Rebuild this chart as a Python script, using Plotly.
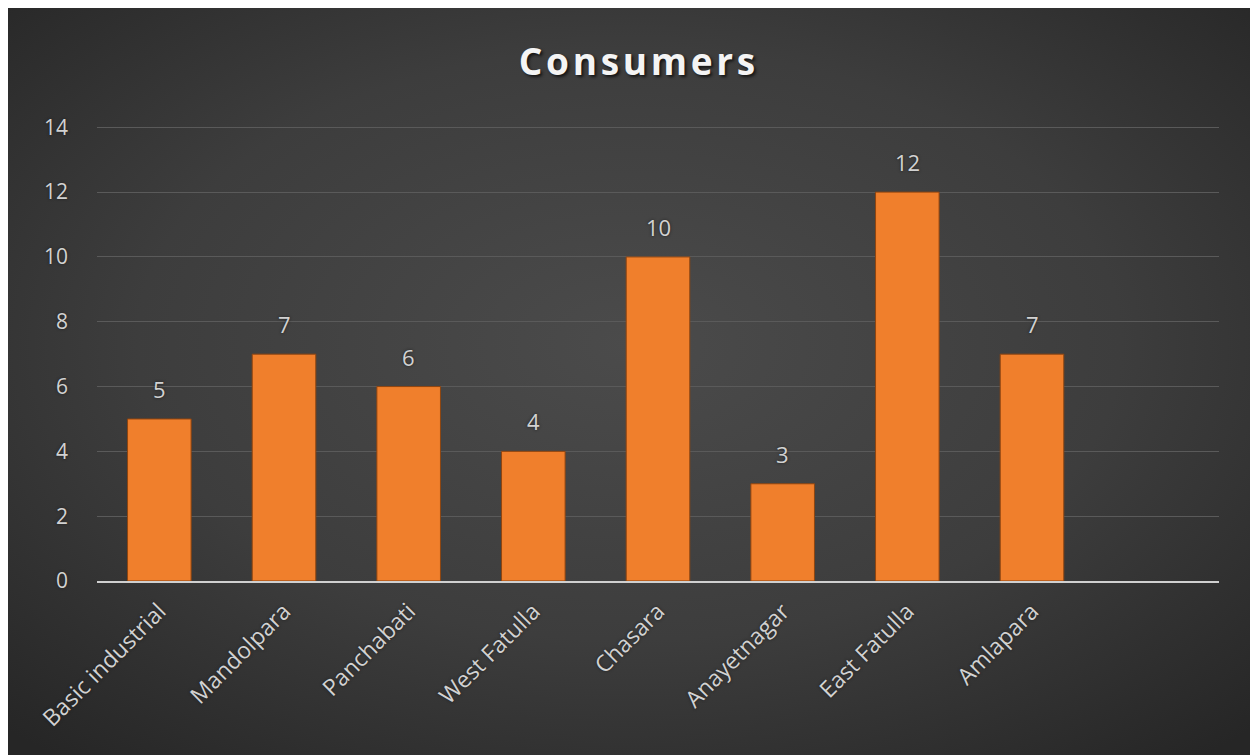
import base64
import plotly.graph_objects as go

# Consumers per area
areas = ["Basic industrial", "Mandolpara", "Panchabati", "West Fatulla",
         "Chasara", "Anayetnagar", "East Fatulla", "Amlapara"]
consumers = [5, 7, 6, 4, 10, 3, 12, 7]
y_ticks = [0, 2, 4, 6, 8, 10, 12, 14]

W, H = 1250, 755
ML, MR, MT, MB = 97, 31, 126, 174
plot_w = W - ML - MR
plot_h = H - MT - MB

FONT = "'Open Sans', Lato, sans-serif"
LABEL_GREY = "#d2d2d2"
GLOW = "0px 0px 3px #1e1e1e"

# dark radial backdrop drawn as an SVG image behind the plot
svg = (
    "<svg xmlns='http://www.w3.org/2000/svg' width='1242' height='747' "
    "viewBox='0 0 1242 747' preserveAspectRatio='none'>"
    "<defs><radialGradient id='g' cx='50%' cy='45%' r='72%'>"
    "<stop offset='0' stop-color='#4b4b4b'/>"
    "<stop offset='0.55' stop-color='#3d3d3d'/>"
    "<stop offset='1' stop-color='#262626'/>"
    "</radialGradient></defs>"
    "<rect width='1242' height='747' fill='url(#g)'/></svg>"
)
bg_uri = "data:image/svg+xml;base64," + base64.b64encode(svg.encode()).decode()

bg_left, bg_top = 8, 8
img_x = (bg_left - ML) / plot_w
img_y = (H - MB - bg_top) / plot_h
img_sx = (W - bg_left) / plot_w
img_sy = (H - bg_top) / plot_h

fig = go.Figure()
fig.add_trace(go.Bar(
    x=areas,
    y=consumers,
    width=0.51,
    marker=dict(color="#F07F2C", line=dict(color="#8f4510", width=1)),
    hoverinfo="x+y",
))

annotations = [
    dict(x=a, y=v, xref="x", yref="y", text=str(v), showarrow=False,
         yanchor="bottom", yshift=13,
         font=dict(family=FONT, size=22, color=LABEL_GREY, shadow=GLOW))
    for a, v in zip(areas, consumers)
]

# title letters spread with hair spaces
title_text = "\u200a".join("Consumers")

fig.update_layout(
    width=W, height=H,
    margin=dict(l=ML, r=MR, t=MT, b=MB, pad=0),
    paper_bgcolor="white",
    plot_bgcolor="rgba(0,0,0,0)",
    showlegend=False,
    bargap=0.49,
    title=dict(
        text=f"<b>{title_text}</b>",
        x=637 / W, xref="container", xanchor="center",
        y=1 - 62 / H, yref="container", yanchor="middle",
        font=dict(family=FONT, size=37, color="#f4f4f4",
                  shadow="2px 2px 3px #151515"),
    ),
    images=[dict(
        source=bg_uri, xref="paper", yref="paper",
        x=img_x, y=img_y, sizex=img_sx, sizey=img_sy,
        xanchor="left", yanchor="top", sizing="stretch", layer="below",
    )],
    annotations=annotations,
    xaxis=dict(
        range=[-0.5, 8.5],
        tickangle=-45,
        tickfont=dict(family=FONT, size=23, color=LABEL_GREY, shadow=GLOW),
        showgrid=False,
        showline=True, linecolor="#d0d0d0", linewidth=1.5,
        ticks="",
        zeroline=False,
        ticklabelstandoff=6,
    ),
    yaxis=dict(
        range=[0, 14.04],
        tickvals=y_ticks,
        tickfont=dict(family=FONT, size=21, color=LABEL_GREY, shadow=GLOW),
        showgrid=True, gridcolor="#5a5a5a", gridwidth=1,
        zeroline=False, showline=False, ticks="",
        ticklabelstandoff=28,
    ),
)

fig.write_html("out.html")
